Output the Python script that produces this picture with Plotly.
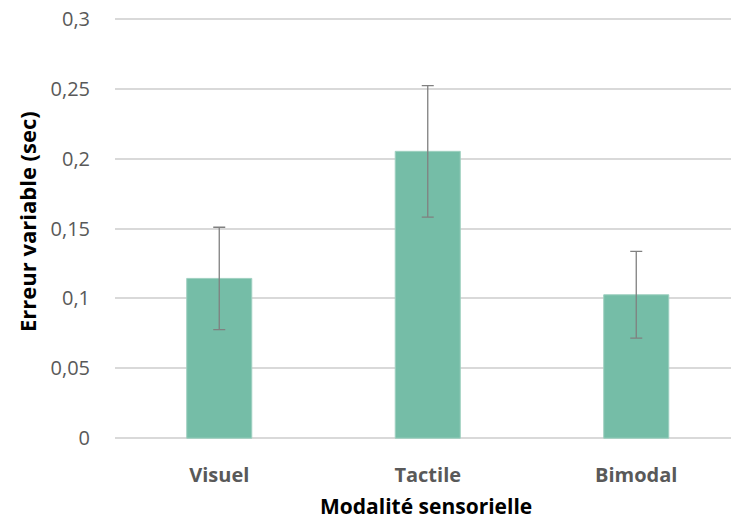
import plotly.graph_objects as go

categories = ["Visuel", "Tactile", "Bimodal"]
values = [0.1143, 0.2052, 0.1026]
errors = [0.0366, 0.047, 0.031]
y_ticks = [0, 0.05, 0.1, 0.15, 0.2, 0.25, 0.3]
y_tick_labels = ["0", "0,05", "0,1", "0,15", "0,2", "0,25", "0,3"]

W, H = 731, 519
ml, mr, mt, mb = 115, 0, 16, 78
pw = W - ml - mr
ph = H - mt - mb

fig = go.Figure()
fig.add_trace(go.Bar(
    x=[0, 1, 2], y=values, width=0.312,
    marker=dict(color="#75BDA7", line=dict(color="#9fd0c0", width=1)),
    error_y=dict(type="data", array=errors, symmetric=True,
                 color="#808080", thickness=1.3, width=6),
    hoverinfo="skip",
))

fig.update_layout(
    width=W, height=H,
    margin=dict(l=ml, r=mr, t=mt, b=mb),
    paper_bgcolor="white", plot_bgcolor="white",
    showlegend=False,
    font=dict(family="Open Sans", color="#595959"),
    xaxis=dict(
        range=[-0.5, -0.5 + pw / 208.5],
        tickvals=[0, 1, 2], ticktext=categories,
        tickfont=dict(size=20, color="#595959", family="Open Sans", weight="bold"),
        showgrid=False, zeroline=False, showline=False,
        ticks="", ticklabelstandoff=20, fixedrange=True,
    ),
    yaxis=dict(
        range=[-0.002, 0.302],
        tickvals=y_ticks, ticktext=y_tick_labels,
        tickfont=dict(size=20, color="#595959", family="Open Sans"),
        showgrid=True, gridcolor="#d9d9d9", gridwidth=1.5,
        zeroline=False, showline=False,
        ticks="", ticklabelstandoff=24, fixedrange=True,
    ),
    annotations=[
        dict(text="<b>Modalité sensorielle</b>", xref="paper", yref="paper",
             x=(426 - ml) / pw, y=-(506 - (H - mb)) / ph,
             xanchor="center", yanchor="middle", showarrow=False,
             font=dict(size=21, color="#000000", family="Open Sans")),
        dict(text="<b>Erreur variable (sec)</b>", xref="paper", yref="paper",
             x=-(ml - 27) / pw, y=(H - mb - 222) / ph,
             xanchor="center", yanchor="middle", showarrow=False, textangle=-90,
             font=dict(size=22, color="#000000", family="Open Sans")),
    ],
)

fig.write_html(
    "out.html",
    config={"displayModeBar": False},
    post_script="document.body.style.margin='0';document.body.style.overflow='hidden';",
)
